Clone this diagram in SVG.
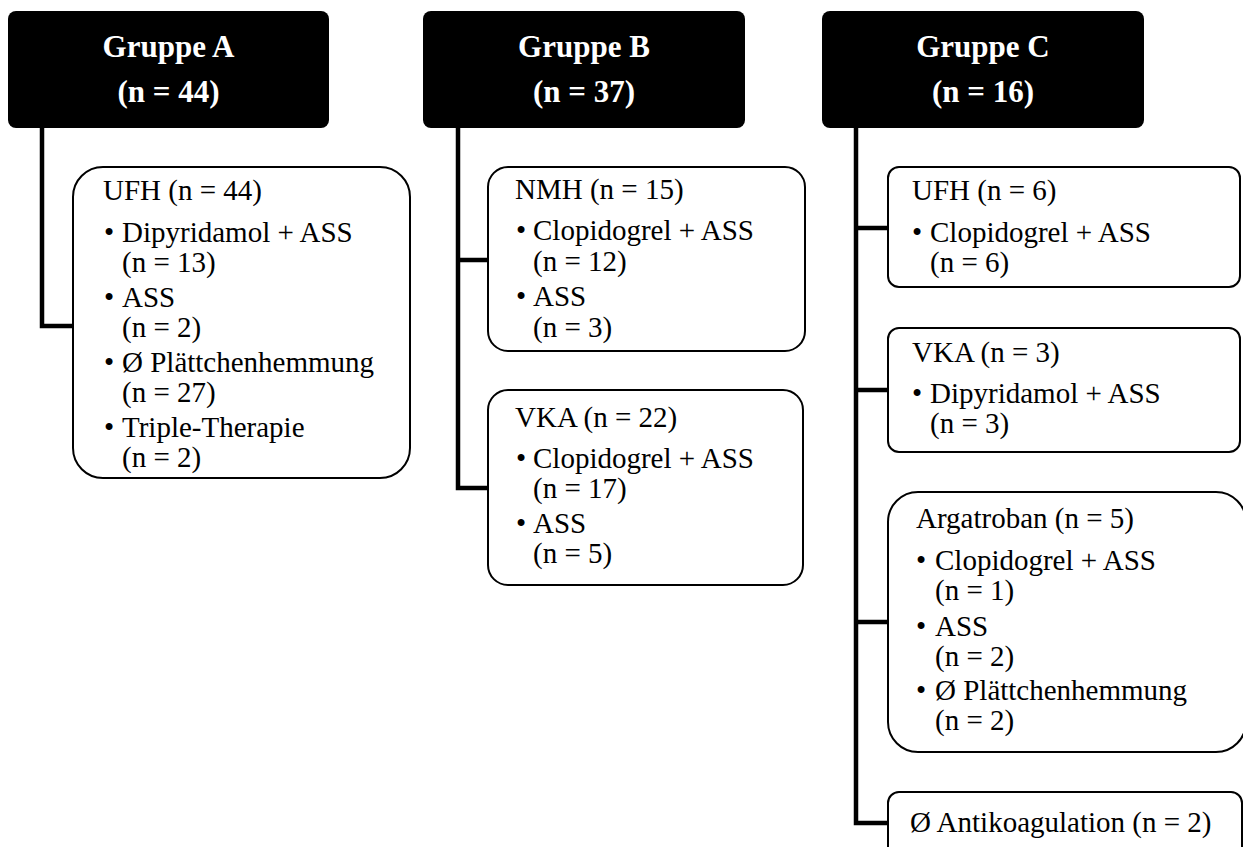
<svg xmlns="http://www.w3.org/2000/svg" width="1243" height="847" viewBox="0 0 1243 847" font-family="Liberation Serif, Times New Roman, serif">
<style>
.hdr{fill:#000;stroke:none}
.ht{font-weight:bold;font-size:31px;fill:#fff;text-anchor:middle}
.box{fill:#fff;stroke:#000;stroke-width:2}
.t{font-size:29px;fill:#000}
.con{fill:none;stroke:#000;stroke-width:4.5;stroke-linejoin:miter;stroke-linecap:butt}
</style>
<rect width="1243" height="847" fill="#fff"/>
<g id="connectors">
<path class="con" d="M42,128 V326 H74"/>
<path class="con" d="M458,128 V488 H489 M458,260 H489"/>
<path class="con" d="M856,128 V823 H889 M856,228 H889 M856,390 H889 M856,622 H889"/>
</g>
<g id="groupA">
<rect class="hdr" x="8" y="11" width="321" height="117" rx="8"/>
<text class="ht" x="168.5" y="57">Gruppe A</text>
<text class="ht" x="168.5" y="102">(n = 44)</text>
</g>
<g id="groupA-UFH">
<rect class="box" x="73" y="167" width="337" height="311" rx="30"/>
<text class="t" x="103" y="200">UFH (n = 44)</text>
<text class="t" x="104" y="242">•</text><text class="t" x="122" y="242">Dipyridamol + ASS</text>
<text class="t" x="122" y="272">(n = 13)</text>
<text class="t" x="104" y="307">•</text><text class="t" x="122" y="307">ASS</text>
<text class="t" x="122" y="337">(n = 2)</text>
<text class="t" x="104" y="372">•</text><text class="t" x="122" y="372">Ø Plättchenhemmung</text>
<text class="t" x="122" y="402">(n = 27)</text>
<text class="t" x="104" y="437">•</text><text class="t" x="122" y="437">Triple-Therapie</text>
<text class="t" x="122" y="467">(n = 2)</text>
</g>
<g id="groupB">
<rect class="hdr" x="423" y="11" width="322" height="117" rx="8"/>
<text class="ht" x="584" y="57">Gruppe B</text>
<text class="ht" x="584" y="102">(n = 37)</text>
</g>
<g id="groupB-NMH">
<rect class="box" x="488" y="167" width="317" height="184" rx="20"/>
<text class="t" x="515" y="199">NMH (n = 15)</text>
<text class="t" x="516" y="240">•</text><text class="t" x="533" y="240">Clopidogrel + ASS</text>
<text class="t" x="533" y="271">(n = 12)</text>
<text class="t" x="516" y="306">•</text><text class="t" x="533" y="306">ASS</text>
<text class="t" x="533" y="337">(n = 3)</text>
</g>
<g id="groupB-VKA">
<rect class="box" x="488" y="390" width="315" height="195" rx="20"/>
<text class="t" x="515" y="427">VKA (n = 22)</text>
<text class="t" x="516" y="468">•</text><text class="t" x="533" y="468">Clopidogrel + ASS</text>
<text class="t" x="533" y="498">(n = 17)</text>
<text class="t" x="516" y="533">•</text><text class="t" x="533" y="533">ASS</text>
<text class="t" x="533" y="563">(n = 5)</text>
</g>
<g id="groupC">
<rect class="hdr" x="822" y="11" width="322" height="117" rx="8"/>
<text class="ht" x="983" y="57">Gruppe C</text>
<text class="ht" x="983" y="102">(n = 16)</text>
</g>
<g id="groupC-UFH">
<rect class="box" x="888" y="167" width="352" height="120" rx="11"/>
<text class="t" x="912" y="200">UFH (n = 6)</text>
<text class="t" x="912" y="242">•</text><text class="t" x="930" y="242">Clopidogrel + ASS</text>
<text class="t" x="930" y="272">(n = 6)</text>
</g>
<g id="groupC-VKA">
<rect class="box" x="888" y="328" width="352" height="124" rx="11"/>
<text class="t" x="912" y="362">VKA (n = 3)</text>
<text class="t" x="912" y="403">•</text><text class="t" x="930" y="403">Dipyridamol + ASS</text>
<text class="t" x="930" y="433">(n = 3)</text>
</g>
<g id="groupC-Argatroban">
<rect class="box" x="888" y="492" width="358" height="260" rx="30"/>
<text class="t" x="916" y="528">Argatroban (n = 5)</text>
<text class="t" x="916" y="570">•</text><text class="t" x="935" y="570">Clopidogrel + ASS</text>
<text class="t" x="935" y="600">(n = 1)</text>
<text class="t" x="916" y="636">•</text><text class="t" x="935" y="636">ASS</text>
<text class="t" x="935" y="666">(n = 2)</text>
<text class="t" x="916" y="700">•</text><text class="t" x="935" y="700">Ø Plättchenhemmung</text>
<text class="t" x="935" y="730">(n = 2)</text>
</g>
<g id="groupC-none">
<rect class="box" x="888" y="792" width="354" height="80" rx="11"/>
<text class="t" x="910" y="832">Ø Antikoagulation (n = 2)</text>
</g>
</svg>
